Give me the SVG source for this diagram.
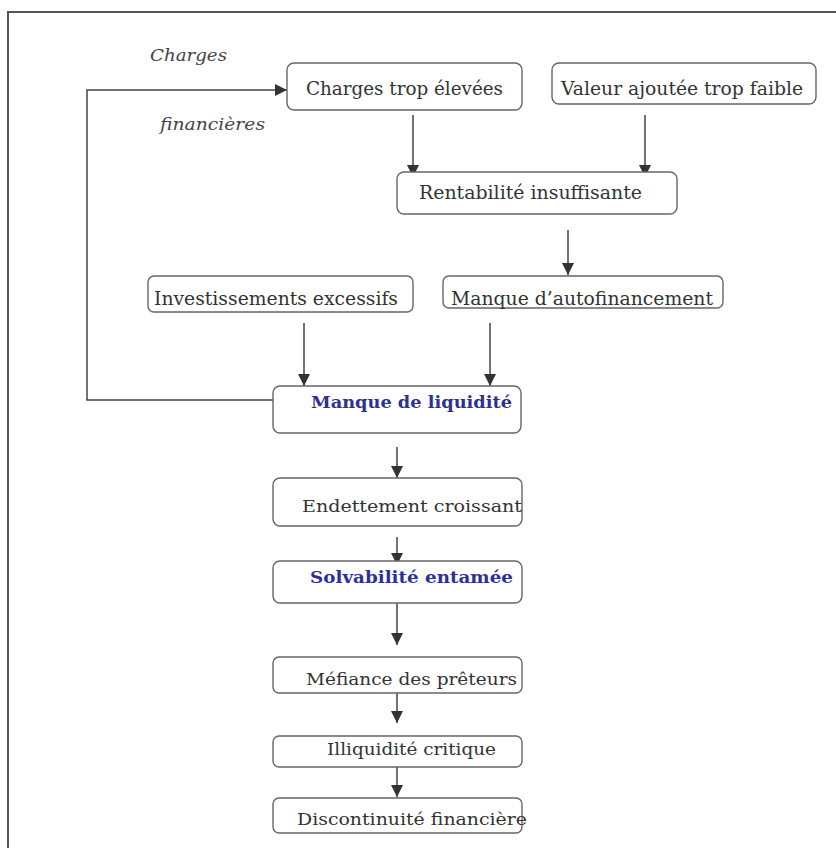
<svg xmlns="http://www.w3.org/2000/svg" width="836" height="848" viewBox="0 0 836 848">
<style>
.box{fill:#fff;stroke:#666;stroke-width:1.4}
.t{font-family:"DejaVu Serif","Liberation Serif",serif;font-size:17px;fill:#333}
.tt{font-family:"DejaVu Serif","Liberation Serif",serif;font-size:19px;fill:#333}
.b{font-family:"DejaVu Serif","Liberation Serif",serif;font-size:17px;font-weight:bold;fill:#2e3192}
.i{font-family:"DejaVu Serif","Liberation Serif",serif;font-size:17px;font-style:italic;fill:#444}
.c{fill:none;stroke:#444;stroke-width:1.5}
</style>
<defs>
<marker id="ah" markerUnits="userSpaceOnUse" markerWidth="12" markerHeight="12" refX="12" refY="6" orient="auto">
<path d="M0,0 L12,6 L0,12 z" fill="#333"/>
</marker>
</defs>
<rect width="836" height="848" fill="#fff"/>
<path d="M8,848 V12 H836" fill="none" stroke="#555" stroke-width="2"/>
<g id="labels">
<text class="i" x="150" y="61" textLength="77" lengthAdjust="spacingAndGlyphs">Charges</text>
<text class="i" x="160" y="130" textLength="105" lengthAdjust="spacingAndGlyphs">financières</text>
</g>
<g id="connectors">
<path class="c" d="M273,400 H87 V90 H287" marker-end="url(#ah)"/>
<path class="c" d="M413,115 V177" marker-end="url(#ah)"/>
<path class="c" d="M645,115 V177" marker-end="url(#ah)"/>
<path class="c" d="M568,230 V275" marker-end="url(#ah)"/>
<path class="c" d="M304,323 V386" marker-end="url(#ah)"/>
<path class="c" d="M490,323 V386" marker-end="url(#ah)"/>
<path class="c" d="M397,447 V478" marker-end="url(#ah)"/>
<path class="c" d="M397,537 V565" marker-end="url(#ah)"/>
<path class="c" d="M397,603 V645" marker-end="url(#ah)"/>
<path class="c" d="M397,693 V723" marker-end="url(#ah)"/>
<path class="c" d="M397,767 V797" marker-end="url(#ah)"/>
</g>
<g id="charges">
<rect class="box" x="287" y="63" width="235" height="47" rx="7"/>
<text class="tt" x="306" y="95" textLength="197" lengthAdjust="spacingAndGlyphs">Charges trop élevées</text>
</g>
<g id="valeur">
<rect class="box" x="552" y="63" width="264" height="41" rx="7"/>
<text class="tt" x="561" y="95" textLength="242" lengthAdjust="spacingAndGlyphs">Valeur ajoutée trop faible</text>
</g>
<g id="rentabilite">
<rect class="box" x="397" y="172" width="280" height="42" rx="7"/>
<text class="tt" x="419" y="199" textLength="223" lengthAdjust="spacingAndGlyphs">Rentabilité insuffisante</text>
</g>
<g id="investissements">
<rect class="box" x="148" y="276" width="265" height="36" rx="6"/>
<text class="tt" x="154" y="305" textLength="244" lengthAdjust="spacingAndGlyphs">Investissements excessifs</text>
</g>
<g id="autofinancement">
<rect class="box" x="443" y="276" width="280" height="32" rx="6"/>
<text class="tt" x="451" y="305" textLength="262" lengthAdjust="spacingAndGlyphs">Manque d’autofinancement</text>
</g>
<g id="liquidite">
<rect class="box" x="273" y="386" width="248" height="47" rx="7"/>
<text class="b" x="311" y="408" textLength="201" lengthAdjust="spacingAndGlyphs">Manque de liquidité</text>
</g>
<g id="endettement">
<rect class="box" x="273" y="478" width="249" height="48" rx="7"/>
<text class="t" x="302" y="512" textLength="220" lengthAdjust="spacingAndGlyphs">Endettement croissant</text>
</g>
<g id="solvabilite">
<rect class="box" x="273" y="561" width="249" height="42" rx="7"/>
<text class="b" x="310" y="583" textLength="203" lengthAdjust="spacingAndGlyphs">Solvabilité entamée</text>
</g>
<g id="mefiance">
<rect class="box" x="273" y="657" width="249" height="36" rx="6"/>
<text class="t" x="306" y="685" textLength="211" lengthAdjust="spacingAndGlyphs">Méfiance des prêteurs</text>
</g>
<g id="illiquidite">
<rect class="box" x="273" y="736" width="249" height="31" rx="6"/>
<text class="t" x="327" y="755" textLength="169" lengthAdjust="spacingAndGlyphs">Illiquidité critique</text>
</g>
<g id="discontinuite">
<rect class="box" x="273" y="798" width="249" height="35" rx="6"/>
<text class="t" x="297" y="825" textLength="230" lengthAdjust="spacingAndGlyphs">Discontinuité financière</text>
</g>
</svg>
